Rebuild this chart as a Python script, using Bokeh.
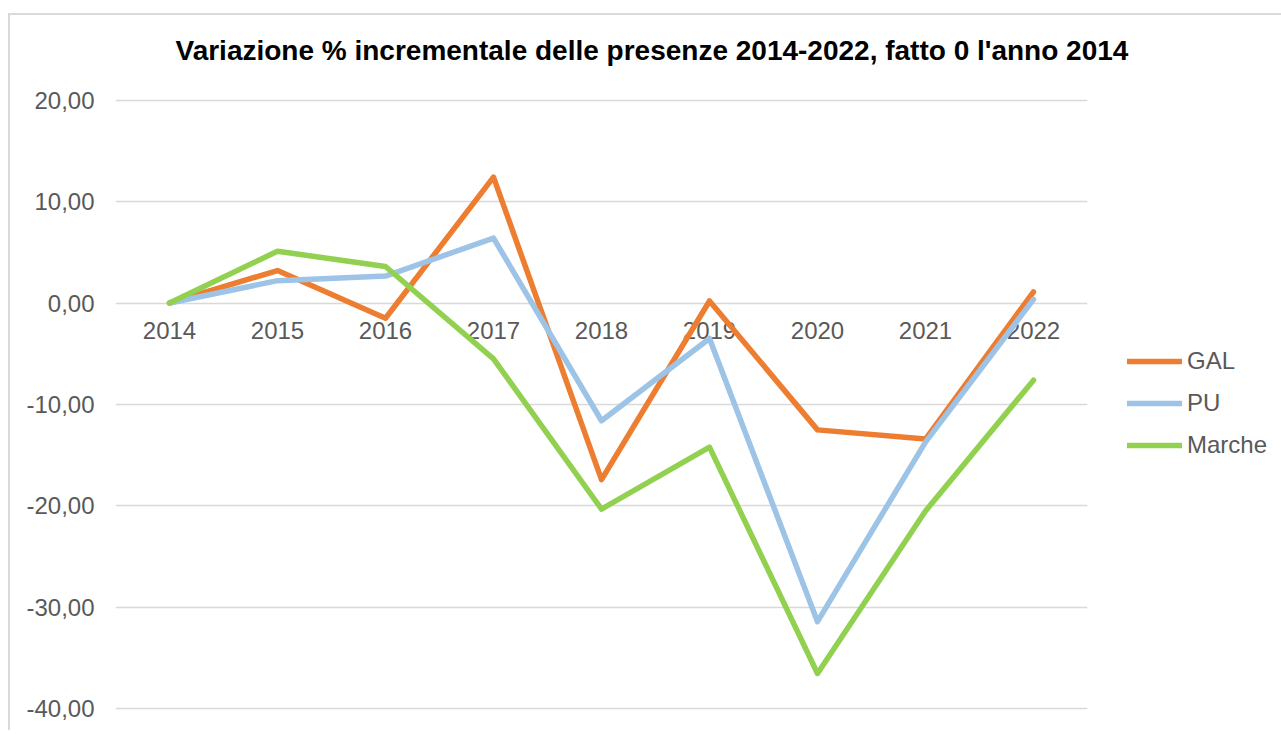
from bokeh.plotting import figure
from bokeh.models import (FactorRange, Range1d, FixedTicker, Legend, LegendItem,
                          Title, ColumnDataSource)
from bokeh.embed import file_html
from bokeh.resources import INLINE
from bokeh.core.properties import value

# ---- data ----
years = ["2014", "2015", "2016", "2017", "2018", "2019", "2020", "2021", "2022"]
gal = [0.0, 3.2, -1.5, 12.4, -17.4, 0.2, -12.5, -13.4, 1.1]
pu = [0.0, 2.2, 2.65, 6.4, -11.6, -3.5, -31.4, -13.7, 0.35]
marche = [0.0, 5.1, 3.6, -5.5, -20.3, -14.2, -36.5, -20.5, -7.6]
series_names = ["GAL", "PU", "Marche"]
y_ticks = [-40, -30, -20, -10, 0, 10, 20]
y_tick_labels = ["-40,00", "-30,00", "-20,00", "-10,00", "0,00", "10,00", "20,00"]
title_text = "Variazione % incrementale delle presenze 2014-2022, fatto 0 l'anno 2014"

# ---- styles ----
colors = ["#ED7D31", "#9DC3E6", "#92D050"]
FONT = "Liberation Sans"
GREY_TXT = "#595959"
GRID = "#D9D9D9"

p = figure(x_range=FactorRange(*years, range_padding=0),
           y_range=Range1d(y_ticks[0] - 0.15, y_ticks[-1] + 0.15),
           width=1268, height=715,
           frame_width=972, frame_height=612,
           min_border_left=105, min_border_top=83, min_border_bottom=20,
           min_border_right=191,
           output_backend="svg", toolbar_location=None,
           background_fill_color="white", border_fill_color="white")

p.styles = {"border-top": "2px solid #D9D9D9", "border-left": "2px solid #D9D9D9",
            "margin-top": "13px", "margin-left": "8px"}

p.outline_line_color = None
p.xaxis.visible = False
p.xgrid.visible = False
p.ygrid.grid_line_color = GRID
p.ygrid.grid_line_width = 1.5
p.ygrid.ticker = FixedTicker(ticks=y_ticks)

ya = p.yaxis[0]
ya.ticker = FixedTicker(ticks=y_ticks)
ya.major_label_overrides = {t: l for t, l in zip(y_ticks, y_tick_labels)}
ya.axis_line_color = None
ya.major_tick_line_color = None
ya.minor_tick_line_color = None
ya.major_tick_out = 0
ya.major_tick_in = 0
ya.major_label_standoff = 21
ya.major_label_text_font = FONT
ya.major_label_text_font_size = "24px"
ya.major_label_text_color = GREY_TXT

# category labels along the zero line
src_lab = ColumnDataSource(dict(x=years, y=[0] * len(years), t=years))
p.text(x="x", y="y", text="t", source=src_lab, y_offset=27,
       text_align="center", text_baseline="middle",
       text_font=value(FONT), text_font_size="24px", text_color=GREY_TXT)

items = []
for name, vals, c in zip(series_names, [gal, pu, marche], colors):
    src = ColumnDataSource(dict(x=years, y=vals))
    r = p.line(x="x", y="y", source=src, line_color=c, line_width=5.5,
               line_join="round", line_cap="round")
    items.append(LegendItem(label=name, renderers=[r]))

legend = Legend(items=items, location=(40, 250),
                glyph_width=55, glyph_height=30, label_height=30,
                spacing=12, label_standoff=5, padding=0, margin=0,
                border_line_color=None, background_fill_alpha=0,
                label_text_font=FONT, label_text_font_size="24px",
                label_text_color=GREY_TXT)
p.add_layout(legend, "right")

p.title = Title(text=title_text, align="left", offset=60, standoff=0,
                padding=dict(left=0, right=0, top=0, bottom=33),
                text_font=FONT, text_font_size="28px", text_font_style="bold",
                text_color="#000000")

open("out.html", "w").write(file_html(p, INLINE))
